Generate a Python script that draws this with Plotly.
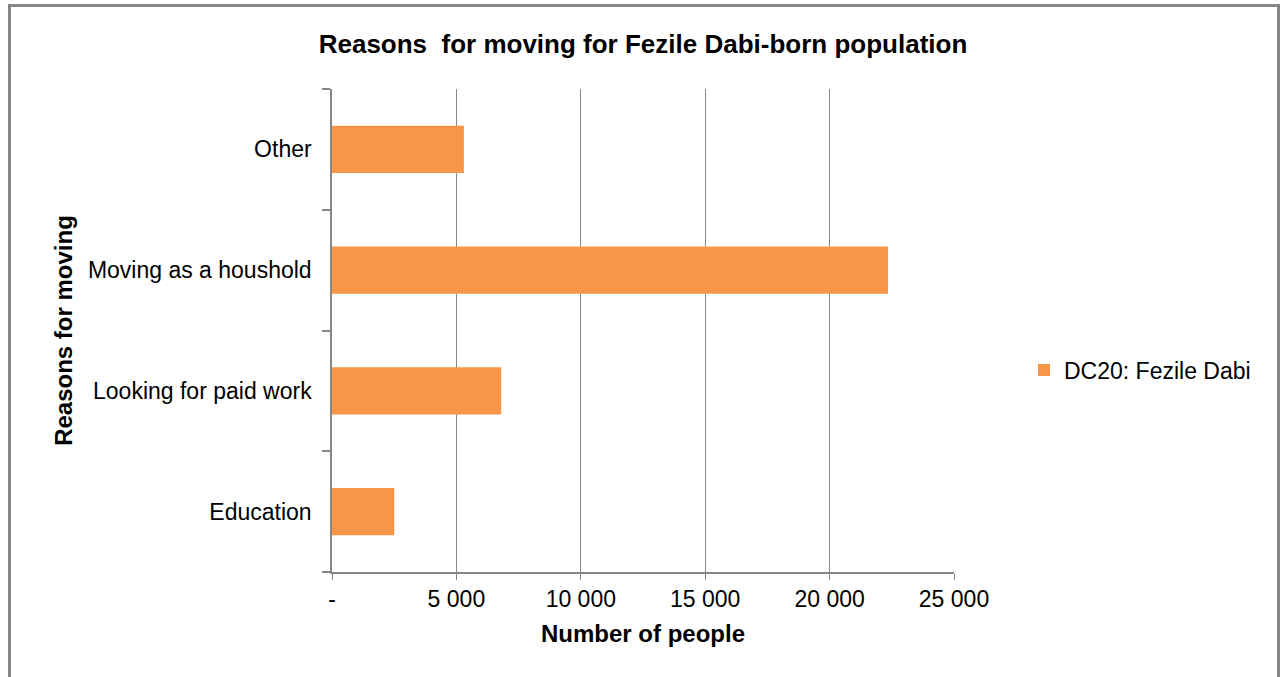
import plotly.graph_objects as go

# Reasons for moving (bottom to top on the category axis)
reasons = ["Education", "Looking for paid work", "Moving as a houshold", "Other"]
people = [2500, 6800, 22350, 5300]

x_ticks = [0, 5000, 10000, 15000, 20000, 25000]
x_tick_text = ["-", "5 000", "10 000", "15 000", "20 000", "25 000"]

series_name = "DC20: Fezile Dabi"

W, H = 1281, 677
L, R, T, B = 332, 327, 89, 105
pw, ph = W - L - R, H - T - B

def px_x(p):
    return (p - L) / pw

def px_y(p):
    return (H - B - p) / ph

grid = "#868686"
font = "Liberation Sans, Arial, sans-serif"

fig = go.Figure(
    go.Bar(
        x=people,
        y=reasons,
        orientation="h",
        name=series_name,
        marker=dict(color="#F79646", line=dict(width=0)),
        showlegend=True,
    )
)

fig.update_layout(
    width=W,
    height=H,
    margin=dict(l=L, r=R, t=T, b=B, autoexpand=False),
    paper_bgcolor="white",
    plot_bgcolor="white",
    bargap=0.61,
    font=dict(family=font, size=24, color="black"),
    title=dict(
        text="<b>Reasons  for moving for Fezile Dabi-born population</b>",
        x=0.5, xref="paper", xanchor="center",
        y=1 - 44 / H, yref="container", yanchor="middle",
        font=dict(size=26, family=font, color="black"),
    ),
    xaxis=dict(
        range=[0, 25000],
        tickvals=x_ticks,
        ticktext=x_tick_text,
        showgrid=True,
        gridcolor=grid,
        gridwidth=1.2,
        showline=True,
        linecolor=grid,
        linewidth=1.5,
        ticks="outside",
        ticklen=6,
        tickcolor=grid,
        tickfont=dict(size=23),
        zeroline=False,
        title=dict(text="<b>Number of people</b>", font=dict(size=24), standoff=14),
    ),
    yaxis=dict(
        categoryorder="array",
        categoryarray=reasons,
        showline=True,
        linecolor=grid,
        linewidth=1.5,
        ticks="outside",
        tickson="boundaries",
        ticklen=8,
        tickcolor=grid,
        tickwidth=1.5,
        showgrid=False,
        tickfont=dict(size=23),
        ticklabelstandoff=14,
        title=dict(text="<b>Reasons for moving</b>", font=dict(size=24), standoff=8),
    ),
    legend=dict(
        x=px_x(1024), xanchor="left",
        y=px_y(370), yanchor="middle",
        font=dict(size=23),
        bgcolor="rgba(0,0,0,0)",
        itemwidth=30,
    ),
    shapes=[
        dict(
            type="rect", xref="paper", yref="paper",
            x0=px_x(9.5), x1=px_x(1278.5), y0=px_y(5.5), y1=px_y(700),
            line=dict(color="#868686", width=3),
            fillcolor="rgba(0,0,0,0)", layer="below",
        )
    ],
)

fig.write_html("out.html")
